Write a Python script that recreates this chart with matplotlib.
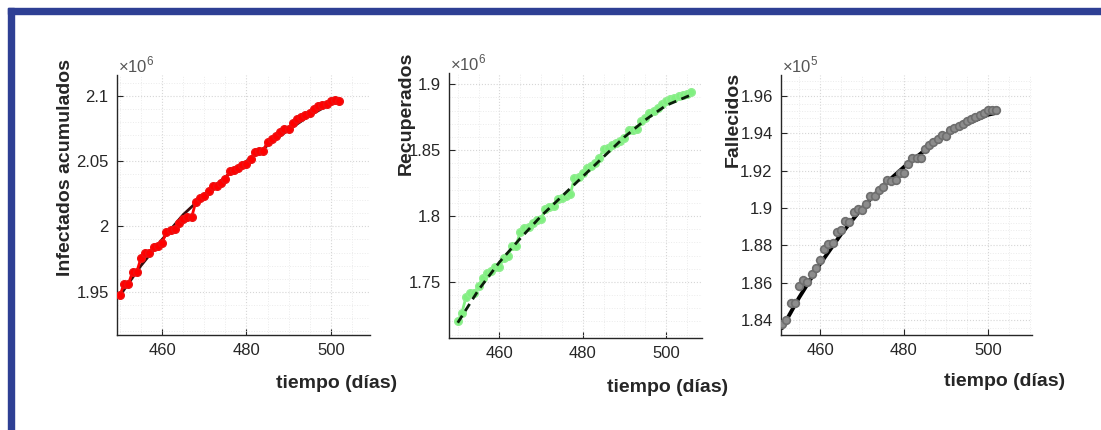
import numpy as np
import matplotlib
matplotlib.use('Agg')
import matplotlib.pyplot as plt
from matplotlib.ticker import FuncFormatter, MultipleLocator, AutoMinorLocator
from matplotlib.patches import Rectangle

plt.rcParams['font.family'] = ['Liberation Sans', 'DejaVu Sans']
plt.rcParams['mathtext.fontset'] = 'custom'
plt.rcParams['mathtext.rm'] = 'Liberation Sans'

# Infectados acumulados (dias 450..502)
dias_inf = list(range(450, 503))
infectados = [1.9475e6, 1.9558e6, 1.9558e6, 1.9653e6, 1.9653e6, 1.9760e6, 1.9800e6, 1.9800e6,
              1.9840e6, 1.9850e6, 1.9870e6, 1.9960e6, 1.9970e6, 1.9980e6, 2.0025e6, 2.0060e6,
              2.0070e6, 2.0070e6, 2.0190e6, 2.0220e6, 2.0230e6, 2.0270e6, 2.0310e6, 2.0310e6,
              2.0330e6, 2.0360e6, 2.0425e6, 2.0430e6, 2.0450e6, 2.0470e6, 2.0480e6, 2.0520e6,
              2.0570e6, 2.0580e6, 2.0580e6, 2.0650e6, 2.0670e6, 2.0690e6, 2.0720e6, 2.0745e6,
              2.0750e6, 2.0790e6, 2.0820e6, 2.0835e6, 2.0855e6, 2.0870e6, 2.0900e6, 2.0920e6,
              2.0930e6, 2.0940e6, 2.0960e6, 2.0965e6, 2.0960e6]
fit_dias_inf = [450, 455, 460, 465, 470, 475, 480, 485, 490, 495, 500, 502]
fit_inf = [1.947e6, 1.970e6, 1.990e6, 2.009e6, 2.024e6, 2.038e6, 2.050e6, 2.062e6,
           2.074e6, 2.085e6, 2.094e6, 2.097e6]

# Recuperados (dias 450..506)
dias_rec = list(range(450, 507))
recuperados = [1.7200e6, 1.7266e6, 1.7387e6, 1.7413e6, 1.7418e6, 1.7470e6, 1.7530e6, 1.7565e6,
               1.7580e6, 1.7615e6, 1.7610e6, 1.7684e6, 1.7696e6, 1.7770e6, 1.7775e6, 1.7880e6,
               1.7912e6, 1.7920e6, 1.7950e6, 1.7970e6, 1.7980e6, 1.8050e6, 1.8070e6, 1.8080e6,
               1.8127e6, 1.8140e6, 1.8155e6, 1.8165e6, 1.8290e6, 1.8300e6, 1.8325e6, 1.8368e6,
               1.8380e6, 1.8400e6, 1.8444e6, 1.8507e6, 1.8520e6, 1.8538e6, 1.8558e6, 1.8570e6,
               1.8590e6, 1.8654e6, 1.8654e6, 1.8658e6, 1.8722e6, 1.8748e6, 1.8782e6, 1.8798e6,
               1.8823e6, 1.8848e6, 1.8874e6, 1.8885e6, 1.8897e6, 1.8910e6, 1.8920e6, 1.8930e6,
               1.8938e6]
fit_dias_rec = [450, 455, 460, 465, 470, 475, 480, 485, 490, 495, 500, 506]
fit_rec = [1.719e6, 1.744e6, 1.765e6, 1.783e6, 1.800e6, 1.815e6, 1.830e6, 1.845e6,
           1.860e6, 1.873e6, 1.884e6, 1.892e6]

# Fallecidos (dias 451..502)
dias_fal = list(range(451, 503))
fallecidos = [1.8377e5, 1.8400e5, 1.8493e5, 1.8493e5, 1.8580e5, 1.8616e5, 1.8605e5, 1.8648e5,
              1.8679e5, 1.8720e5, 1.8782e5, 1.8810e5, 1.8814e5, 1.8871e5, 1.8880e5, 1.8930e5,
              1.8925e5, 1.8979e5, 1.8997e5, 1.8990e5, 1.9024e5, 1.9064e5, 1.9063e5, 1.9095e5,
              1.9113e5, 1.9152e5, 1.9143e5, 1.9152e5, 1.9188e5, 1.9190e5, 1.9238e5, 1.9270e5,
              1.9270e5, 1.9270e5, 1.9318e5, 1.9336e5, 1.9354e5, 1.9372e5, 1.9390e5, 1.9388e5,
              1.9420e5, 1.9431e5, 1.9440e5, 1.9452e5, 1.9465e5, 1.9479e5, 1.9488e5, 1.9497e5,
              1.9509e5, 1.9524e5, 1.9525e5, 1.9524e5]
fit_dias_fal = [451, 455, 460, 465, 470, 475, 480, 485, 490, 495, 500, 502]
fit_fal = [1.836e5, 1.852e5, 1.870e5, 1.886e5, 1.900e5, 1.912e5, 1.922e5, 1.931e5,
           1.939e5, 1.945e5, 1.950e5, 1.951e5]

W, H = 1101, 430
fig = plt.figure(figsize=(W / 100, H / 100), dpi=100)

# blue frame
fig.patches.append(Rectangle((8 / W, 0), 6 / W, (H - 8) / H, transform=fig.transFigure,
                             color='#2e3f94', zorder=0))
fig.patches.append(Rectangle((8 / W, (H - 14) / H), (W - 8) / W, 6 / H, transform=fig.transFigure,
                             color='#2e3f94', zorder=0))

def make_ax(left, top, right, bottom):
    return fig.add_axes([left / W, (H - bottom) / H, (right - left) / W, (bottom - top) / H])

ax1 = make_ax(117, 75, 370, 335)
ax2 = make_ax(449, 73, 702, 338)
ax3 = make_ax(781, 75, 1032, 335)

ax1.plot(fit_dias_inf, fit_inf, '-', color='#3a0d0d', lw=2, zorder=2)
ax1.plot(dias_inf, infectados, 'o-', color='#ff0000', mec='#ee1111', ms=5.5, lw=2, zorder=3)

ax2.plot(dias_rec, recuperados, 'o-', color='#80f080', mec='#90ee90', ms=5.5, lw=2, zorder=2)
ax2.plot(fit_dias_rec, fit_rec, '--', color='#0a200a', lw=2, dashes=(3, 2), zorder=3)

ax3.plot(fit_dias_fal, fit_fal, '-', color='black', lw=2.8, zorder=2)
ax3.plot(dias_fal, fallecidos, 'o', color='#8c8c8c', mec='#6e6e6e', mew=1.2, ms=5.5, zorder=3)

setups = [
    (ax1, (449.3, 509.3), (1.9168e6, 2.116e6), 0.05e6, 1e6, '6', 'Infectados acumulados',
     (66, 167), (337, 384)),
    (ax2, (447.9, 508.6), (1.7074e6, 1.9086e6), 0.05e6, 1e6, '6', 'Recuperados',
     (406, 113), (668, 388)),
    (ax3, (450.7, 510.5), (1.832e5, 1.9713e5), 0.02e5, 1e5, '5', 'Fallecidos',
     (733, 119), (1005, 382)),
]

for ax, xl, yl, ystep, scale, expo, ylab, ypos, xpos in setups:
    ax.set_xlim(*xl)
    ax.set_ylim(*yl)
    ax.xaxis.set_major_locator(MultipleLocator(20))
    ax.xaxis.set_minor_locator(MultipleLocator(5))
    ax.yaxis.set_major_locator(MultipleLocator(ystep))
    ax.yaxis.set_minor_locator(AutoMinorLocator(5))
    ax.yaxis.set_major_formatter(FuncFormatter(lambda v, p, s=scale: f'{v / s:g}'))
    ax.grid(True, which='major', ls=':', color='#d6d6d6', lw=0.8)
    ax.grid(True, which='minor', ls=':', color='#ebebeb', lw=0.7)
    ax.set_axisbelow(True)
    for side in ('top', 'right'):
        ax.spines[side].set_visible(False)
    for side in ('left', 'bottom'):
        ax.spines[side].set_color('#262626')
        ax.spines[side].set_linewidth(1.0)
    ax.tick_params(which='major', direction='in', length=4, width=0.8, colors='#262626',
                   labelsize=12, pad=6)
    ax.tick_params(which='minor', length=0)
    ax.text(0.005, 1.0, r'$\times10^{' + expo + '}$', transform=ax.transAxes,
            ha='left', va='bottom', fontsize=12, color='#555555')
    fig.text(ypos[0] / W, 1 - ypos[1] / H, ylab, rotation=90, ha='center', va='center',
             fontsize=14, fontweight='bold', color='#262626')
    fig.text(xpos[0] / W, 1 - xpos[1] / H, 'tiempo (días)', ha='center', va='center',
             fontsize=14, fontweight='bold', color='#262626')

fig.savefig('out.png', dpi=100)
